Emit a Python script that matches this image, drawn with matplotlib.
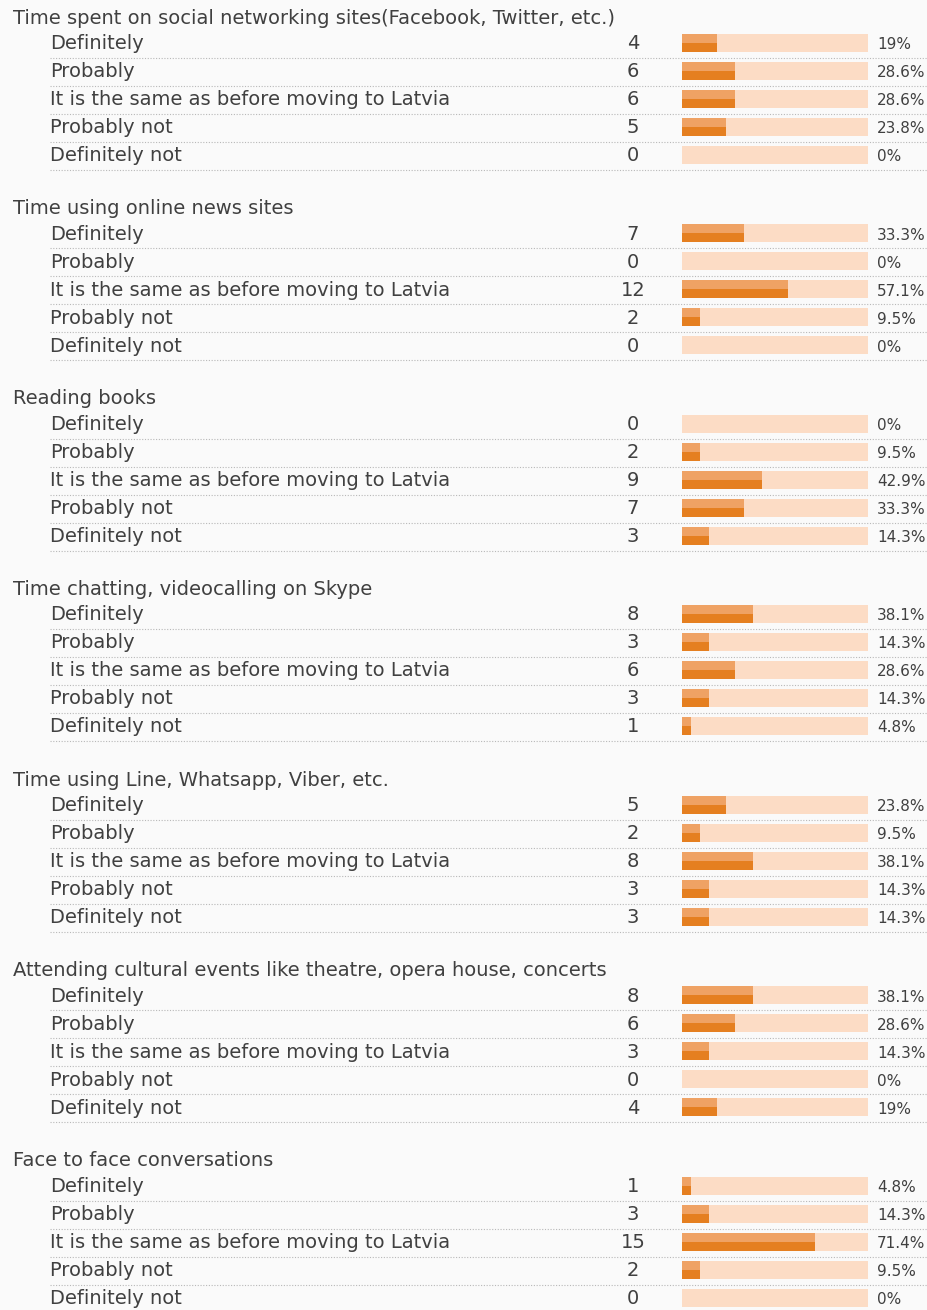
import numpy as np
import matplotlib.pyplot as plt

titles = [
    "Time spent on social networking sites(Facebook, Twitter, etc.)",
    "Time using online news sites",
    "Reading books",
    "Time chatting, videocalling on Skype",
    "Time using Line, Whatsapp, Viber, etc.",
    "Attending cultural events like theatre, opera house, concerts",
    "Face to face conversations",
]
answers = ["Definitely", "Probably", "It is the same as before moving to Latvia",
           "Probably not", "Definitely not"]
counts = [
    [4, 6, 6, 5, 0],
    [7, 0, 12, 2, 0],
    [0, 2, 9, 7, 3],
    [8, 3, 6, 3, 1],
    [5, 2, 8, 3, 3],
    [8, 6, 3, 0, 4],
    [1, 3, 15, 2, 0],
]
percents = [
    [19, 28.6, 28.6, 23.8, 0],
    [33.3, 0, 57.1, 9.5, 0],
    [0, 9.5, 42.9, 33.3, 14.3],
    [38.1, 14.3, 28.6, 14.3, 4.8],
    [23.8, 9.5, 38.1, 14.3, 14.3],
    [38.1, 28.6, 14.3, 0, 19],
    [4.8, 14.3, 71.4, 9.5, 0],
]

W, H = 928, 1310
fig = plt.figure(figsize=(W / 100, H / 100), dpi=100, facecolor="#fafafa")
ax = fig.add_axes([0, 0, 1, 1])
ax.set_xlim(0, W)
ax.set_ylim(H, 0)
ax.axis("off")

txt = "#404040"
bar_x0, bar_w = 682, 186
sec_gap, row_gap = 190.5, 28

def fmt(p):
    return f"{p:g}%"

for i, title in enumerate(titles):
    ty = 18 + sec_gap * i
    ax.text(13, ty, title, fontsize=14, color=txt, va="center", ha="left")
    ys = ty + 25.5 + row_gap * np.arange(len(answers))
    pct = np.array(percents[i], dtype=float)
    # track
    ax.barh(ys - 1, bar_w, left=bar_x0, height=18, color="#fcdcc5", edgecolor="none")
    # bar, lighter upper half
    ax.barh(ys + 3.5, pct / 100 * bar_w, left=bar_x0, height=9, color="#e57f20", edgecolor="none")
    ax.barh(ys - 5.5, pct / 100 * bar_w, left=bar_x0, height=9, color="#efa264", edgecolor="none")
    for j, ans in enumerate(answers):
        y = ys[j]
        ax.text(50, y, ans, fontsize=14, color=txt, va="center", ha="left")
        ax.text(633, y, str(counts[i][j]), fontsize=14, color=txt, va="center", ha="center")
        ax.text(877, y + 1, fmt(percents[i][j]), fontsize=11, color=txt, va="center", ha="left")
        ax.plot([50, W], [y + 14, y + 14], color="#b8b8b8", lw=0.8, ls=(0, (1, 1.5)))

fig.savefig("out.png", dpi=100, facecolor=fig.get_facecolor())
